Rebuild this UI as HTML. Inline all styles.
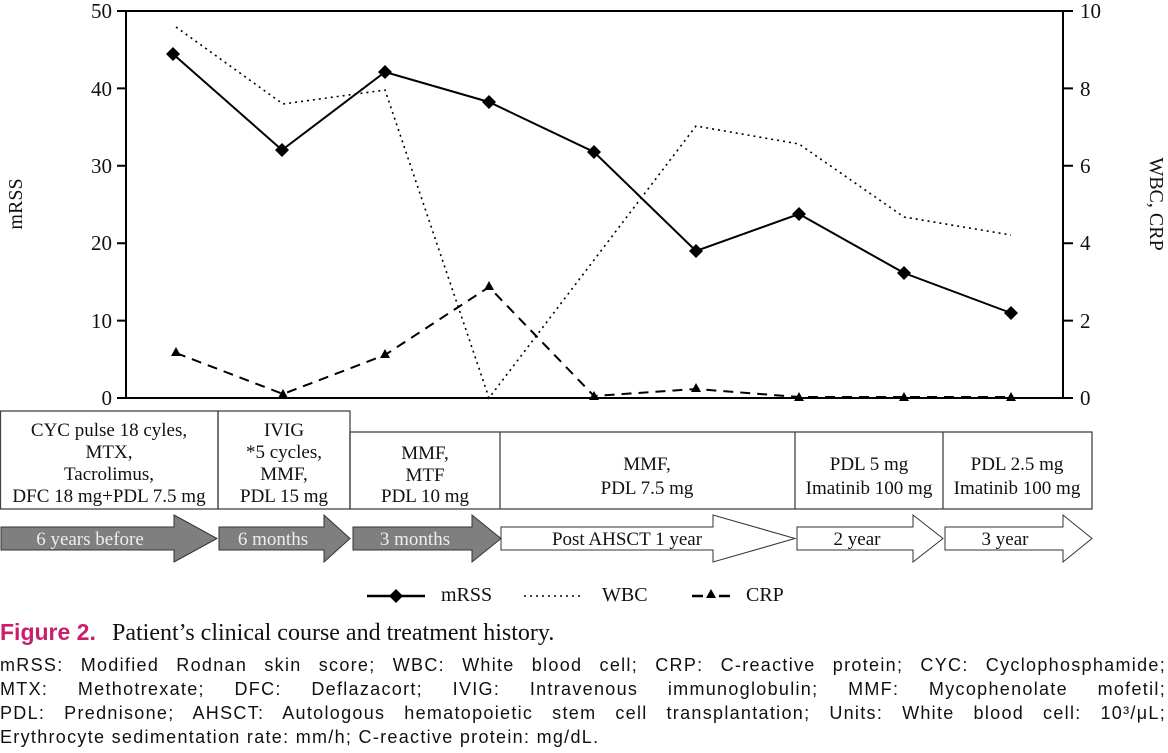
<!DOCTYPE html>
<html><head><style>
body{margin:0;background:#fff;width:1168px;height:753px;overflow:hidden;position:relative}
svg{display:block}
.s{font-family:"Liberation Serif",serif;fill:#111}
.notes{position:absolute;left:0;top:653px;width:1166px;font-family:"Liberation Sans",sans-serif;font-size:18px;letter-spacing:1.3px;color:#111;line-height:24px}
.notes div{white-space:nowrap;text-align:justify;text-align-last:justify}
.notes div.l{text-align-last:left}
</style></head><body>
<svg width="1168" height="753" viewBox="0 0 1168 753">
<g stroke="#000" stroke-width="2" fill="none">
<rect x="126" y="11" width="937" height="387"/>
<path d="M117 11H126M117 88.4H126M117 165.8H126M117 243.2H126M117 320.6H126M117 398H126"/>
<path d="M1063 11H1073M1063 88.4H1073M1063 165.8H1073M1063 243.2H1073M1063 320.6H1073M1063 398H1073"/>
</g>
<g class="s" font-size="21" text-anchor="end">
<text x="112" y="18">50</text><text x="112" y="96">40</text><text x="112" y="173">30</text><text x="112" y="250">20</text><text x="112" y="328">10</text><text x="112" y="405">0</text>
</g>
<g class="s" font-size="21">
<text x="1080" y="18">10</text><text x="1080" y="96">8</text><text x="1080" y="173">6</text><text x="1080" y="250">4</text><text x="1080" y="328">2</text><text x="1080" y="405">0</text>
</g>
<text class="s" font-size="20" transform="translate(22,204) rotate(-90)" text-anchor="middle">mRSS</text>
<text class="s" font-size="20" transform="translate(1150,204) rotate(90)" text-anchor="middle">WBC, CRP</text>
<polyline fill="none" stroke="#000" stroke-width="1.6" stroke-dasharray="2,4" points="176,27 283,104 385,90 489,398 696,126 799,144 904,217 1011,235"/>
<polyline fill="none" stroke="#000" stroke-width="2" stroke-dasharray="10,7" points="176,353 283,394 385,355 489,287 594,396 696,389 799,397 904,397 1011,397"/>
<g fill="#000">
<path d="M176 347l5 9h-10z"/><path d="M283 389l5 9h-10z"/><path d="M385 349l5 9h-10z"/><path d="M489 281l5 9h-10z"/><path d="M594 391l5 9h-10z"/><path d="M696 383l5 9h-10z"/><path d="M799 392l5 9h-10z"/><path d="M904 392l5 9h-10z"/><path d="M1011 392l5 9h-10z"/>
</g>
<polyline fill="none" stroke="#000" stroke-width="2" points="173,54 282,150 385,72 489,102 594,152 696,251 799,214 904,273 1011,313"/>
<g fill="#000">
<path d="M173 47l7 7-7 7-7-7z"/><path d="M282 143l7 7-7 7-7-7z"/><path d="M385 65l7 7-7 7-7-7z"/><path d="M489 95l7 7-7 7-7-7z"/><path d="M594 145l7 7-7 7-7-7z"/><path d="M696 244l7 7-7 7-7-7z"/><path d="M799 207l7 7-7 7-7-7z"/><path d="M904 266l7 7-7 7-7-7z"/><path d="M1011 306l7 7-7 7-7-7z"/>
</g>
<g fill="none" stroke="#444" stroke-width="1.3">
<rect x="0.5" y="411" width="217.5" height="98"/>
<rect x="218" y="411" width="132" height="98"/>
<rect x="350" y="432" width="742" height="77"/>
<path d="M500 432V509M795 432V509M943 432V509"/>
</g>
<g class="s" font-size="19" text-anchor="middle">
<text x="109" y="436">CYC pulse 18 cyles,</text><text x="109" y="458">MTX,</text><text x="109" y="480">Tacrolimus,</text><text x="109" y="502">DFC 18 mg+PDL 7.5 mg</text>
<text x="284" y="436">IVIG</text><text x="284" y="458">*5 cycles,</text><text x="284" y="480">MMF,</text><text x="284" y="502">PDL 15 mg</text>
<text x="425" y="459">MMF,</text><text x="425" y="481">MTF</text><text x="425" y="502">PDL 10 mg</text>
<text x="647" y="470">MMF,</text><text x="647" y="494">PDL 7.5 mg</text>
<text x="869" y="470">PDL 5 mg</text><text x="869" y="494">Imatinib 100 mg</text>
<text x="1017" y="470">PDL 2.5 mg</text><text x="1017" y="494">Imatinib 100 mg</text>
</g>
<g stroke="#333" stroke-width="1">
<path fill="#7f7f7f" d="M1 527H174V515L217 538.5 174 562V550H1z"/>
<path fill="#7f7f7f" d="M219 527H324V515L350 538.5 324 562V550H219z"/>
<path fill="#7f7f7f" d="M353 527H472V515L501 538.5 472 562V550H353z"/>
<path fill="#fff" d="M501 527H713V515L795 538.5 713 562V550H501z"/>
<path fill="#fff" d="M797 527H913V515L943 538.5 913 562V550H797z"/>
<path fill="#fff" d="M945 527H1063V515L1092 538.5 1063 562V550H945z"/>
</g>
<g class="s" font-size="19" text-anchor="middle">
<text x="90" y="545" style="fill:#eee">6 years before</text>
<text x="273" y="545" style="fill:#eee">6 months</text>
<text x="415" y="545" style="fill:#eee">3 months</text>
<text x="627" y="545">Post AHSCT 1 year</text>
<text x="857" y="545">2 year</text>
<text x="1005" y="545">3 year</text>
</g>
<path d="M367 596H425" stroke="#000" stroke-width="2.5"/>
<path d="M396 589l7 7-7 7-7-7z" fill="#000"/>
<text class="s" font-size="20" x="441" y="601">mRSS</text>
<path d="M524 596H583" stroke="#000" stroke-width="1.6" stroke-dasharray="2,4"/>
<text class="s" font-size="20" x="602" y="601">WBC</text>
<path d="M692 596H703M719 596H730" stroke="#000" stroke-width="2.5"/>
<path d="M711 589l5 9h-10z" fill="#000"/>
<text class="s" font-size="20" x="746" y="601">CRP</text>
<text x="0" y="640" font-family="Liberation Sans,sans-serif" font-weight="bold" font-size="23" fill="#c8206e">Figure 2.</text>
<text class="s" x="112" y="640" font-size="24">Patient’s clinical course and treatment history.</text>
</svg>
<div class="notes">
<div>mRSS: Modified Rodnan skin score; WBC: White blood cell; CRP: C-reactive protein; CYC: Cyclophosphamide;</div>
<div>MTX: Methotrexate; DFC: Deflazacort; IVIG: Intravenous immunoglobulin; MMF: Mycophenolate mofetil;</div>
<div>PDL: Prednisone; AHSCT: Autologous hematopoietic stem cell transplantation; Units: White blood cell: 10³/μL;</div>
<div class="l">Erythrocyte sedimentation rate: mm/h; C-reactive protein: mg/dL.</div>
</div>
</body></html>
